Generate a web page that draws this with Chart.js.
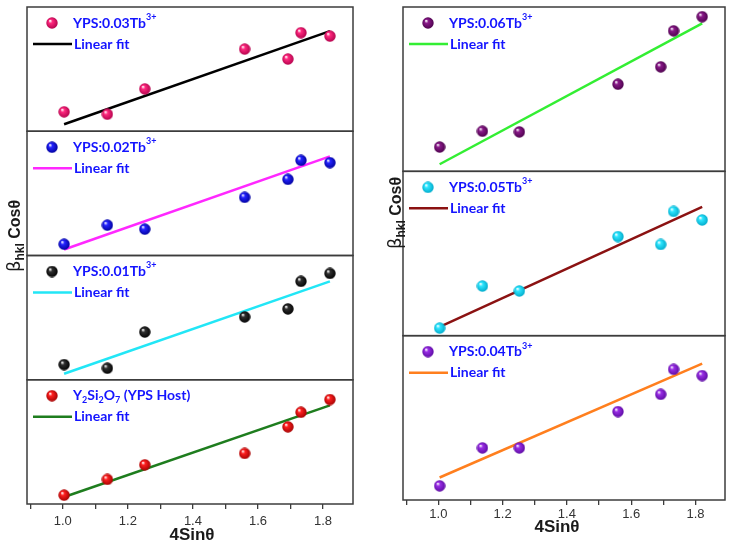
<!DOCTYPE html>
<html>
<head>
<meta charset="utf-8">
<script src="https://cdn.jsdelivr.net/npm/chart.js@4.4.1/dist/chart.umd.min.js"></script>
<style>
body { margin: 0; background: #fff; }
#wrap { position: relative; width: 732px; height: 543px; }
.col { position: absolute; top: 0; width: 366px; height: 543px; }
</style>
</head>
<body>
<div id="wrap">
  <div class="col" style="left:0"><canvas id="leftChart" width="366" height="543"></canvas></div>
  <div class="col" style="left:366px"><canvas id="rightChart" width="366" height="543"></canvas></div>
</div>
<script>
// 4Sin(theta) of the seven peaks, same for every sample
var sinX = [1.004, 1.137, 1.252, 1.559, 1.692, 1.732, 1.821];
var fitX = [1.004, 1.821];
var xLabels = ['1.0', '1.2', '1.4', '1.6', '1.8'];

// beta_hkl cos(theta) (no y scale shown, 0-10 per panel)
var yHost = [0.71, 1.98, 3.15, 4.07, 6.21, 7.38, 8.41];
var fitHost = [0.56, 7.94];
var y001 = [1.22, 0.93, 3.84, 5.06, 5.70, 7.92, 8.56];
var fit001 = [0.48, 7.92];
var y002 = [0.91, 2.44, 2.12, 4.68, 6.13, 7.66, 7.47];
var fit002 = [0.48, 7.98];
var y003 = [1.56, 1.37, 3.41, 6.61, 5.81, 7.93, 7.66];
var fit003 = [0.56, 8.06];
var y004 = [0.86, 3.17, 3.17, 5.38, 6.43, 7.95, 7.57];
var fit004 = [1.37, 8.30];
var y005 = [0.46, 3.02, 2.72, 6.03, 5.55, 7.56, 7.04];
var fit005 = [0.54, 7.84];
var y006 = [1.48, 2.44, 2.40, 5.30, 6.36, 8.55, 9.41];
var fit006 = [0.43, 9.00];

// glossy ball used as point marker
function ball(color, dark) {
    var c = document.createElement('canvas');
    c.width = 12; c.height = 12;
    var g = c.getContext('2d');
    var grad = g.createRadialGradient(4, 3.7, 0.3, 6, 6, 6.1);
    grad.addColorStop(0, '#ffffff');
    grad.addColorStop(0.28, color);
    grad.addColorStop(1, dark);
    g.fillStyle = grad;
    g.beginPath();
    g.arc(6, 6, 5.7, 0, Math.PI * 2);
    g.fill();
    return c;
}

// panels listed bottom -> top (last one ends up on top of the stack)
var leftPanels = [
    {axis: 'yHost', ys: yHost, fit: fitHost, dot: ball('#ff2020', '#a00000'), line: '#1e7d1e',
        label: [['Y'], ['2', 'sub'], ['Si'], ['2', 'sub'], ['O'], ['7', 'sub'], [' (YPS Host)']]},
    {axis: 'y001', ys: y001, fit: fit001, dot: ball('#303030', '#000000'), line: '#22e6f6',
        label: [['YPS:0.01Tb'], ['3+', 'sup']]},
    {axis: 'y002', ys: y002, fit: fit002, dot: ball('#2424ff', '#00009a'), line: '#ff28ff',
        label: [['YPS:0.02Tb'], ['3+', 'sup']]},
    {axis: 'y003', ys: y003, fit: fit003, dot: ball('#ff2a7f', '#b0004a'), line: '#000000',
        label: [['YPS:0.03Tb'], ['3+', 'sup']]}
];
var rightPanels = [
    {axis: 'y004', ys: y004, fit: fit004, dot: ball('#9a2ee6', '#5a0aa0'), line: '#ff7f1e',
        label: [['YPS:0.04Tb'], ['3+', 'sup']]},
    {axis: 'y005', ys: y005, fit: fit005, dot: ball('#2ee6ff', '#00a8c8'), line: '#8b1212',
        label: [['YPS:0.05Tb'], ['3+', 'sup']]},
    {axis: 'y006', ys: y006, fit: fit006, dot: ball('#8a1a8a', '#4a004a'), line: '#33ee33',
        label: [['YPS:0.06Tb'], ['3+', 'sup']]}
];

function drawRich(ctx, x, y, parts) {
    ctx.textBaseline = 'middle';
    parts.forEach(function (p) {
        var dy = 0;
        if (p[1] === 'sub') { ctx.font = 'bold 9px Lato'; dy = 4; }
        else if (p[1] === 'sup') { ctx.font = 'bold 9px Lato'; dy = -6; }
        else ctx.font = 'bold 14px Lato';
        ctx.fillText(p[0], x, y + dy);
        x += ctx.measureText(p[0]).width;
    });
}

function yTitle(ctx, bx, cy) {
    var parts = [
        {t: 'β', font: '18px "DejaVu Sans"', dy: 0},
        {t: 'hkl', font: 'bold 12px "Liberation Sans"', dy: 4},
        {t: ' Cosθ', font: 'bold 16px "Liberation Sans"', dy: 0}
    ];
    ctx.save();
    ctx.translate(bx, cy);
    ctx.rotate(-Math.PI / 2);
    var w = 0;
    parts.forEach(function (p) { ctx.font = p.font; w += ctx.measureText(p.t).width; });
    var x = -w / 2;
    ctx.fillStyle = '#1a1a1a';
    ctx.textBaseline = 'alphabetic';
    parts.forEach(function (p) {
        ctx.font = p.font;
        ctx.fillText(p.t, x, p.dy);
        x += ctx.measureText(p.t).width;
    });
    ctx.restore();
}

function panelPlugin(panels, opt) {
    return {
        id: 'panels',
        afterDraw: function (chart) {
            var ctx = chart.ctx, a = chart.chartArea;
            ctx.save();
            panels.forEach(function (p) {
                var s = chart.scales[p.axis];
                ctx.strokeStyle = '#3c3c3c';
                ctx.lineWidth = 1.5;
                ctx.strokeRect(a.left, s.top, a.right - a.left, s.bottom - s.top);
                // legend
                ctx.drawImage(p.dot, a.left + 25 - 6, s.top + 16 - 6);
                ctx.fillStyle = '#1414ff';
                drawRich(ctx, a.left + 46, s.top + 16, p.label);
                ctx.strokeStyle = p.line;
                ctx.lineWidth = 2.5;
                ctx.beginPath();
                ctx.moveTo(a.left + 6, s.top + 37);
                ctx.lineTo(a.left + 45, s.top + 37);
                ctx.stroke();
                drawRich(ctx, a.left + 47, s.top + 37, [['Linear fit']]);
            });
            // x title
            ctx.fillStyle = '#1a1a1a';
            ctx.font = 'bold 17px "Liberation Sans"';
            ctx.textAlign = 'center';
            ctx.textBaseline = 'middle';
            ctx.fillText('4Sinθ', opt.titleX, opt.titleY);
            ctx.textAlign = 'left';
            ctx.restore();
            yTitle(ctx, opt.yTitleX, opt.yTitleY);
        }
    };
}

function makeChart(id, panels, opt) {
    var datasets = [];
    var scales = {
        x: {
            type: 'linear', min: 0.89, max: 1.892,
            afterFit: function (scale) { scale.height = opt.axisH; },
            border: {display: false},
            grid: {drawOnChartArea: false, tickLength: 5, color: '#3c3c3c', lineWidth: 1.3},
            ticks: {
                stepSize: 0.1, includeBounds: false, autoSkip: false, maxRotation: 0,
                padding: opt.tickPad, color: '#333',
                font: {family: '"Liberation Sans"', size: 13},
                callback: function (v) {
                    var s = (Math.round(v * 10) / 10).toFixed(1);
                    return xLabels.indexOf(s) >= 0 ? s : '';
                }
            }
        }
    };
    panels.forEach(function (p) {
        scales[p.axis] = {type: 'linear', position: 'left', stack: 'col', stackWeight: 1,
            min: 0, max: 10, display: false};
        datasets.push({
            data: sinX.map(function (x, i) { return {x: x, y: p.ys[i]}; }),
            yAxisID: p.axis, pointStyle: p.dot, pointRadius: 6, showLine: false, order: 0
        });
        datasets.push({
            data: fitX.map(function (x, i) { return {x: x, y: p.fit[i]}; }),
            yAxisID: p.axis, showLine: true, borderColor: p.line, borderWidth: 2.5,
            pointRadius: 0, order: 1
        });
    });
    return new Chart(document.getElementById(id), {
        type: 'scatter',
        data: {datasets: datasets},
        options: {
            responsive: false,
            animation: false,
            layout: {padding: opt.pad},
            plugins: {legend: {display: false}, tooltip: {enabled: false}},
            scales: scales
        },
        plugins: [panelPlugin(panels, opt)]
    });
}

makeChart('leftChart', leftPanels, {
    pad: {left: 27, right: 13, top: 4, bottom: 0}, axisH: 39, tickPad: 5,
    titleX: 192, titleY: 535, yTitleX: 20, yTitleY: 236
});
makeChart('rightChart', rightPanels, {
    pad: {left: 37, right: 4, top: 3, bottom: 0}, axisH: 43, tickPad: 2,
    titleX: 191, titleY: 527, yTitleX: 35, yTitleY: 213
});
</script>
</body>
</html>
